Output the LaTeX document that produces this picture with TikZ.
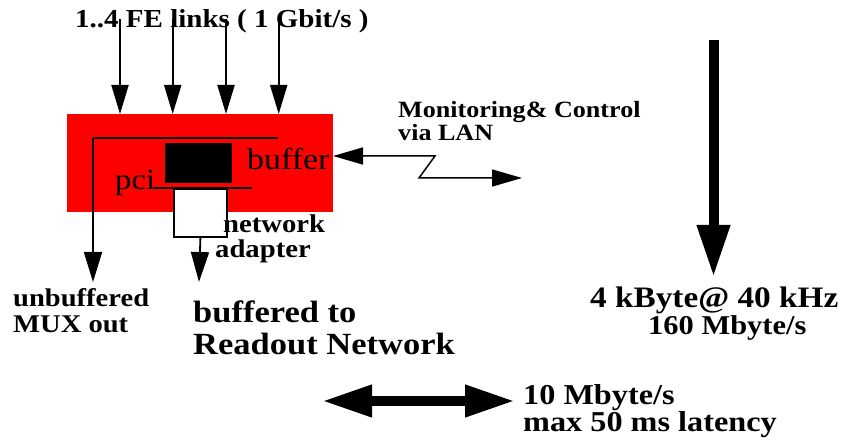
\documentclass[tikz,border=0pt]{standalone}
\usepackage{fontspec}
\setmainfont{Liberation Serif}[FakeStretch=1.12]
\usetikzlibrary{arrows.meta}
\newcommand{\fsz}[1]{\fontsize{#1}{#1}\selectfont}
\tikzset{
  lbl/.style={inner sep=0pt, anchor=base west, font=\bfseries},
  wire/.style={line width=1.8pt},
  inarrow/.style={line width=2pt, -{Triangle[length=29pt,width=17pt]}},
  outarrow/.style={line width=1.8pt, -{Triangle[length=30pt,width=18pt]}},
  lanline/.style={line width=1.5pt, {Triangle[length=30pt,width=17pt]}-{Triangle[length=30pt,width=17pt]}},
  fatarrow/.style={line width=10pt, -{Triangle[length=52pt,width=31pt]}},
  fatdouble/.style={line width=10pt, {Triangle[length=50pt,width=30pt]}-{Triangle[length=50pt,width=30pt]}},
}
\begin{document}
\begin{tikzpicture}[x=1pt,y=-1pt]
\useasboundingbox (0,0) rectangle (859,443);
% board
\node[fill=red, draw=none, minimum width=266pt, minimum height=98pt, inner sep=0pt, anchor=north west] (board) at (67,114) {};
\node[fill=black, draw=none, minimum width=67pt, minimum height=40pt, inner sep=0pt, anchor=north west] (buf) at (164.5,143) {};
% inner wiring
\coordinate (w1) at (278,138);
\coordinate (w2) at (93,138);
\coordinate (mux) at (93,282);
\draw[wire] (w1) -- (w2);
\draw[outarrow] (w2) -- (mux);
\coordinate (p1) at (153,188);
\coordinate (p2) at (252,188);
\node[fill=white, draw=black, line width=1.8pt, minimum width=53pt, minimum height=48pt, inner sep=0pt, anchor=north west] (nic) at (173,188) {};
\draw[wire] (p1) -- (p2);
\coordinate (ro) at (199,282);
\draw[outarrow] (nic.south) -- (ro);
% input arrows
\foreach \x/\n in {120/a,172.7/b,226/c,278.7/d}{
  \coordinate (top\n) at (\x,19);
  \draw[inarrow] (top\n) -- (top\n |- board.north);
}
\node[lbl, font=\bfseries\fsz{25.9}] (title) at (75,28) {1..4 FE links ( 1 Gbit/s )};
\foreach \x/\n in {120/a,172.7/b,226/c,278.7/d}{
  \draw[line width=2pt] (top\n) -- ++(0,12);
}
% texts in board
\node[inner sep=0pt, anchor=base west, font=\fsz{30.3}] (buftxt) at (247,170) {buffer};
\node[inner sep=0pt, anchor=base west, font=\fsz{29.2}] (pci) at (115,190) {pci};
\node[lbl, font=\bfseries\fsz{25.6}] (net1) at (223,233) {network};
\node[lbl, font=\bfseries\fsz{25.6}] (net2) at (215,258) {adapter};
% LAN
\coordinate (l0) at (333,156);
\coordinate (l1) at (435,156);
\coordinate (l2) at (419,178);
\coordinate (l3) at (522,178);
\draw[lanline] (l0) -- (l1) -- (l2) -- (l3);
\node[lbl, font=\bfseries\fsz{23.3}] (mon1) at (398,117.7) {Monitoring\& Control};
\node[lbl, font=\bfseries\fsz{23.3}] (mon2) at (398,141) {via LAN};
% outputs
\node[lbl, font=\bfseries\fsz{25.5}] (ub1) at (13,307) {unbuffered};
\node[lbl, font=\bfseries\fsz{25.5}] (ub2) at (13,333) {MUX out};
\node[lbl, font=\bfseries\fsz{30.8}] (bt1) at (193,323) {buffered to};
\node[lbl, font=\bfseries\fsz{30.8}] (bt2) at (193,355) {Readout Network};
% big arrow
\coordinate (ba0) at (713.5,40);
\coordinate (ba1) at (713.5,277);
\draw[fatarrow] (ba0) -- (ba1);
\node[lbl, font=\bfseries\fsz{29.7}] (kb1) at (590,308) {4 kByte@ 40 kHz};
\node[lbl, font=\bfseries\fsz{27.2}] (kb2) at (648,335) {160 Mbyte/s};
% double arrow
\coordinate (da0) at (322,401);
\coordinate (da1) at (515,401);
\draw[fatdouble] (da0) -- (da1);
\node[lbl, font=\bfseries\fsz{28.8}] (mb1) at (523,404) {10 Mbyte/s};
\node[lbl, font=\bfseries\fsz{28.8}] (mb2) at (523,431.5) {max 50 ms latency};
\end{tikzpicture}
\end{document}
